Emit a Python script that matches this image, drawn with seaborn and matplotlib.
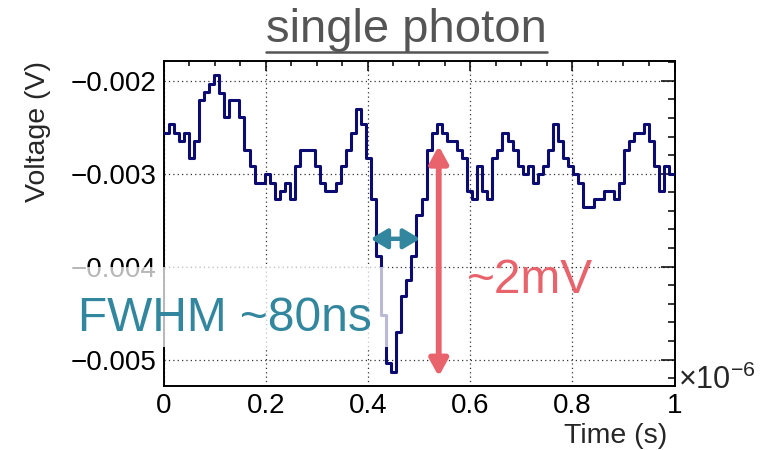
import numpy as np
import pandas as pd
import matplotlib
matplotlib.use("Agg")
import matplotlib.pyplot as plt
import seaborn as sns
from matplotlib.patches import Rectangle, FancyArrowPatch
from matplotlib.lines import Line2D
from matplotlib.ticker import MultipleLocator, FuncFormatter

# waveform samples (mV), one per time bin
voltage_mv = [
    -2.56, -2.47, -2.56, -2.65, -2.56, -2.83, -2.65, -2.21, -2.12, -2.03,
    -1.94, -2.13, -2.39, -2.21, -2.21, -2.39, -2.74, -2.92, -3.10, -3.10,
    -3.00, -3.10, -3.27, -3.19, -3.10, -3.27, -2.92, -2.74, -2.74, -2.74,
    -2.92, -3.10, -3.19, -3.19, -3.10, -2.92, -2.74, -2.56, -2.30, -2.47,
    -2.83, -3.27, -3.89, -4.52, -5.04, -5.13, -4.70, -4.32, -4.14, -3.89,
    -3.44, -3.27, -2.74,
    -2.56, -2.47, -2.56, -2.65, -2.65, -2.74, -2.83, -3.19, -3.27, -2.92,
    -3.19, -3.27, -2.83, -2.74, -2.56, -2.65,
    -2.74, -2.92, -3.00, -2.92, -3.10, -3.00, -2.92, -2.74, -2.47, -2.65,
    -2.83, -2.92, -3.00, -3.10, -3.36, -3.36,
    -3.27, -3.27, -3.19, -3.19, -3.27, -3.10, -2.74, -2.65, -2.56, -2.56,
    -2.47, -2.65, -2.92, -3.19, -2.92, -3.00,
]
t_start, t_stop = 0.0, 1e-6

# annotation geometry (data units)
fwhm_x = [0.4055e-6, 0.502e-6]
fwhm_y = -0.00370
amp_x = 0.5386e-6
amp_y = [-0.00270, -0.00518]

volts = np.array(voltage_mv) * 1e-3
edges = np.linspace(t_start, t_stop, len(volts) + 1)
df = pd.DataFrame({"time": edges, "voltage": np.append(volts, volts[-1])})

sns.set_theme(style="white")
plt.rcParams["font.family"] = ["Liberation Sans", "DejaVu Sans"]
plt.rcParams["mathtext.fontset"] = "custom"
plt.rcParams["mathtext.rm"] = "Liberation Sans"
plt.rcParams["mathtext.it"] = "Liberation Sans:italic"

W, H = 761, 450
fig = plt.figure(figsize=(W / 100, H / 100), dpi=100)
ax = fig.add_axes([163.5 / W, 64 / H, 511 / W, 325 / H])

sns.lineplot(data=df, x="time", y="voltage", drawstyle="steps-post",
             color="#0b0b72", lw=2.2, ax=ax, zorder=3)

ax.set_xlim(t_start, t_stop)
ax.set_ylim(-0.005283, -0.001788)
ax.xaxis.set_major_locator(MultipleLocator(0.2e-6))
ax.xaxis.set_minor_locator(MultipleLocator(0.05e-6))
ax.yaxis.set_major_locator(MultipleLocator(0.001))
ax.yaxis.set_minor_locator(MultipleLocator(0.0002))
ax.xaxis.set_major_formatter(FuncFormatter(lambda v, p: f"{v * 1e6:g}"))
ax.yaxis.set_major_formatter(FuncFormatter(lambda v, p: f"{v:.3f}".replace("-", "\u2212")))

ax.tick_params(which="both", direction="in", top=True, right=True,
               labelsize=20, width=1.1, color="black", labelcolor="black")
ax.tick_params(axis="x", which="major", length=7.5, pad=5)
ax.tick_params(axis="x", which="minor", length=3.8)
ax.tick_params(axis="y", which="major", length=10, pad=5)
ax.tick_params(axis="y", which="minor", length=5)
for s in ax.spines.values():
    s.set_linewidth(1.4)
    s.set_color("black")

ax.set_axisbelow(True)
ax.grid(True, which="major", linestyle=(0, (1, 2.5)), color="#333333", lw=0.9)
ax.set_xlabel("")
ax.set_ylabel("")

# arrows
ax.add_patch(FancyArrowPatch((fwhm_x[0], fwhm_y), (fwhm_x[1], fwhm_y),
                             arrowstyle="<|-|>,head_length=1.0,head_width=0.6",
                             mutation_scale=10, lw=3.2, color="#32879f",
                             shrinkA=0, shrinkB=0, zorder=4, clip_on=False))
ax.add_patch(FancyArrowPatch((amp_x, amp_y[0]), (amp_x, amp_y[1]),
                             arrowstyle="<|-|>,head_length=1.0,head_width=0.55",
                             mutation_scale=10, lw=4.2, color="#e8636c",
                             shrinkA=0, shrinkB=0, zorder=4, clip_on=False))

# semi-transparent box behind the FWHM label
fig.add_artist(Rectangle((62 / W, (H - 347) / H), 326 / W, 80 / H,
                         transform=fig.transFigure, facecolor="white",
                         edgecolor="none", alpha=0.72, zorder=5))
fig.text(372 / W, (H - 331) / H, "FWHM ~80ns", ha="right", va="baseline",
         fontsize=34.5, color="#32879f", zorder=6)
fig.text(467 / W, (H - 293) / H, "~2mV", ha="left", va="baseline",
         fontsize=34.5, color="#e8636c", zorder=6)

# axis titles
fig.text(667 / W, (H - 443) / H, "Time (s)", ha="right", va="baseline",
         fontsize=20.5)
fig.text(38 / W, (H - 61) / H, "Voltage (V)", rotation=90, ha="center",
         va="top", fontsize=20.5)
fig.text(678 / W, (H - 389) / H, r"$\times10^{-6}$", ha="left",
         va="baseline", fontsize=22)

# underlined title
title = fig.text(406.5 / W, (H - 42) / H, "single photon", ha="center",
                 va="baseline", fontsize=34, color="#555555")
fig.canvas.draw()
bb = title.get_window_extent()
fig.add_artist(Line2D([bb.x0 / W, bb.x1 / W], [(H - 52) / H, (H - 52) / H],
                      transform=fig.transFigure, color="#555555", lw=1.8))

fig.savefig("out.png", dpi=100)
